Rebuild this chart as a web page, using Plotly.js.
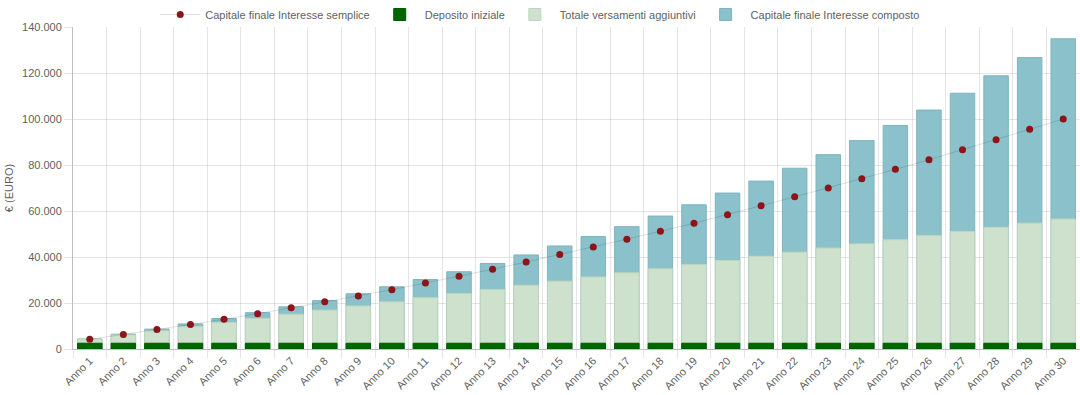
<!DOCTYPE html>
<html>
<head>
<meta charset="utf-8">
<script src="https://cdn.plot.ly/plotly-3.0.1.min.js"></script>
<style>
  html, body { margin: 0; padding: 0; background: #fff; }
  #chart { width: 1080px; height: 395px; }
</style>
</head>
<body>
<div id="chart"></div>
<script>
const anni = ["Anno 1","Anno 2","Anno 3","Anno 4","Anno 5","Anno 6","Anno 7","Anno 8","Anno 9","Anno 10",
  "Anno 11","Anno 12","Anno 13","Anno 14","Anno 15","Anno 16","Anno 17","Anno 18","Anno 19","Anno 20",
  "Anno 21","Anno 22","Anno 23","Anno 24","Anno 25","Anno 26","Anno 27","Anno 28","Anno 29","Anno 30"];

const depositoIniziale = [2500,2500,2500,2500,2500,2500,2500,2500,2500,2500,
  2500,2500,2500,2500,2500,2500,2500,2500,2500,2500,
  2500,2500,2500,2500,2500,2500,2500,2500,2500,2500];

const versamentiAggiuntivi = [1800,3600,5400,7200,9000,10800,12600,14400,16200,18000,
  19800,21600,23400,25200,27000,28800,30600,32400,34200,36000,
  37800,39600,41400,43200,45000,46800,48600,50400,52200,54000];

const capitaleComposto = [4350,6450,8650,10900,13250,15800,18350,21050,24000,27050,
  30200,33600,37200,40900,44800,48900,53200,57800,62700,67800,
  73000,78600,84500,90600,97200,103900,111200,118800,126700,134900];

const capitaleSemplice = [4200,6300,8450,10650,12950,15350,17900,20500,23050,25800,
  28700,31600,34650,37800,41100,44400,47700,51150,54700,58400,
  62300,66150,70050,74050,78100,82300,86600,91000,95500,99950];

const legendNames = ["Capitale finale Interesse semplice","Deposito iniziale","Totale versamenti aggiuntivi","Capitale finale Interesse composto"];

const txt = "#5f5f5f";
const font = "Liberation Sans, Arial, Helvetica, sans-serif";

const traces = [
  {
    type: "bar", name: legendNames[3], x: anni, y: capitaleComposto, width: 0.73,
    marker: { color: "#8bc1ca", line: { color: "#7fb4be", width: 1 } },
    legendrank: 4
  },
  {
    type: "bar", name: legendNames[2], x: anni, y: versamentiAggiuntivi, base: depositoIniziale, width: 0.73,
    marker: { color: "#cde1cc", line: { color: "#bfd6be", width: 1 } },
    legendrank: 3
  },
  {
    type: "bar", name: legendNames[1], x: anni, y: depositoIniziale, width: 0.73,
    marker: { color: "#006400", line: { color: "#005a00", width: 1 } },
    legendrank: 2
  },
  {
    type: "scatter", mode: "lines+markers", name: legendNames[0], x: anni, y: capitaleSemplice,
    line: { color: "rgba(0,0,0,0.12)", width: 1 },
    marker: { color: "#8b1519", size: 7 },
    legendrank: 1
  }
];

const layout = {
  width: 1080, height: 395,
  margin: { l: 73, r: 0, t: 23, b: 46 },
  paper_bgcolor: "#fff", plot_bgcolor: "#fff",
  barmode: "overlay",
  separators: ",.",
  font: { family: font, size: 11, color: txt },
  showlegend: true,
  legend: {
    orientation: "h", x: 0.464, xanchor: "center", y: 1.085, yanchor: "top",
    font: { family: font, size: 11, color: txt },
    itemwidth: 40, traceorder: "normal", bgcolor: "rgba(0,0,0,0)"
  },
  xaxis: {
    type: "category",
    tickson: "boundaries",
    showgrid: true, gridcolor: "rgba(0,0,0,0.1)", gridwidth: 1,
    showline: true, linecolor: "rgba(0,0,0,0.25)", linewidth: 1,
    ticks: "outside", ticklen: 8, tickcolor: "rgba(0,0,0,0.1)",
    tickangle: -45,
    tickfont: { family: font, size: 11, color: txt },
    range: [-0.5, 29.5]
  },
  yaxis: {
    range: [0, 140000], dtick: 20000, tick0: 0,
    tickformat: ",d",
    showgrid: true, gridcolor: "rgba(0,0,0,0.1)", gridwidth: 1,
    zeroline: false,
    showline: true, linecolor: "rgba(0,0,0,0.25)", linewidth: 1,
    ticks: "outside", ticklen: 8, tickcolor: "rgba(0,0,0,0.1)",
    tickfont: { family: font, size: 11, color: txt },
    title: { text: "€ (EURO)", font: { family: font, size: 11, color: txt }, standoff: 6 }
  }
};

Plotly.newPlot("chart", traces, layout, { displayModeBar: false, staticPlot: true });
</script>
</body>
</html>
